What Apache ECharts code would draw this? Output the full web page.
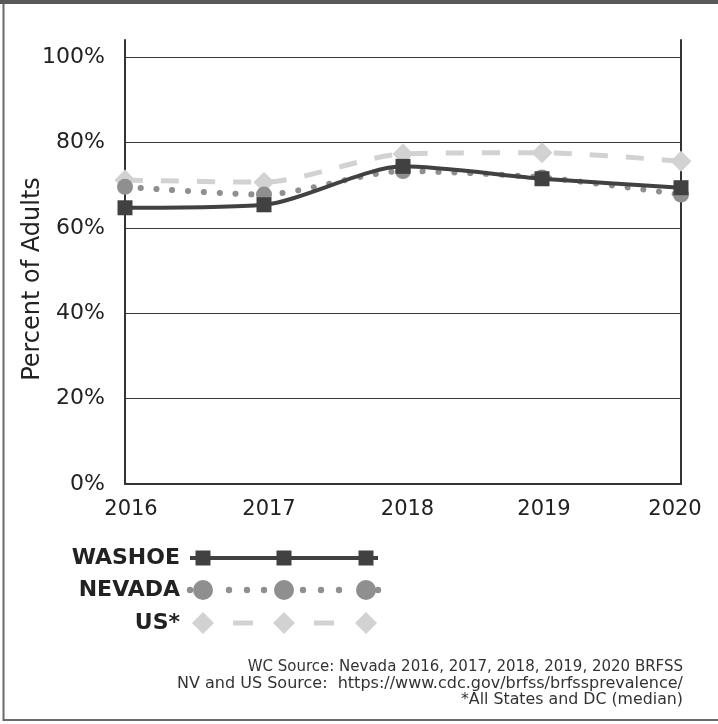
<!DOCTYPE html>
<html><head><meta charset="utf-8">
<script src="https://cdn.jsdelivr.net/npm/echarts@6/dist/echarts.min.js"></script>
<style>html,body{margin:0;padding:0;background:#fff}#c{width:718px;height:724px}</style>
</head><body><div id="c"></div>
<script>
const years = ['2016','2017','2018','2019','2020'];
const washoe = [64.7, 65.4, 74.4, 71.5, 69.4];
const nevada = [69.6, 67.8, 73.3, 71.8, 67.8];
const us = [71.2, 70.7, 77.3, 77.6, 75.6];
const yTicks = [0, 20, 40, 60, 80, 100];
const sourceLines = [
  'WC Source: Nevada 2016, 2017, 2018, 2019, 2020 BRFSS',
  'NV and US Source:  https://www.cdc.gov/brfss/brfssprevalence/',
  '*All States and DC (median)'
];
const FONT = 'DejaVu Sans';
const C_W = '#414141', C_N = '#8f8f8f', C_U = '#d2d2d2';
const sourceFontSizes = [15, 16, 15.8];

const chart = echarts.init(document.getElementById('c'));

function legendRow(label, y, color, kind) {
  const els = [];
  const mk = [203,284,366];
  els.push({type:'text', x:180, y:y, style:{text:label, font:'bold 22px "'+FONT+'"', fill:'#222', align:'right', verticalAlign:'middle'}, z:10});
  if (kind==='w') {
    els.push({type:'line', shape:{x1:190,y1:y,x2:378,y2:y}, style:{stroke:color, lineWidth:4}, z:10});
  } else if (kind==='n') {
    [190,229,247,264,303,321,339,378].forEach(cx=>els.push({type:'circle', shape:{cx:cx,cy:y,r:3.2}, style:{fill:color}, z:10}));
  } else {
    [[233,253],[314,334]].forEach(s=>els.push({type:'line', shape:{x1:s[0],y1:y,x2:s[1],y2:y}, style:{stroke:color, lineWidth:5}, z:10}));
  }
  mk.forEach(cx=>{
    if (kind==='w') els.push({type:'rect', shape:{x:cx-7.5,y:y-7.5,width:15,height:15}, style:{fill:color}, z:11});
    else if (kind==='n') els.push({type:'circle', shape:{cx:cx,cy:y,r:10}, style:{fill:color}, z:11});
    else els.push({type:'polygon', shape:{points:[[cx,y-11],[cx+11,y],[cx,y+11],[cx-11,y]]}, style:{fill:color}, z:11});
  });
  return els;
}

const graphics = [
  {type:'rect', shape:{x:0,y:0,width:718,height:4}, style:{fill:'#595959'}},
  {type:'line', shape:{x1:3.5,y1:4,x2:3.5,y2:721}, style:{stroke:'#6a6a6a', lineWidth:2}},
  {type:'line', shape:{x1:3,y1:720,x2:718,y2:720}, style:{stroke:'#6a6a6a', lineWidth:2}},
  ...legendRow('WASHOE', 558, C_W, 'w'),
  ...legendRow('NEVADA', 590, C_N, 'n'),
  ...legendRow('US*', 623, C_U, 'u'),
  ...sourceLines.map((t,i)=>({type:'text', x:683, y:667+i*16.5, style:{text:t, font:sourceFontSizes[i]+'px "'+FONT+'"', fill:'#333', align:'right', verticalAlign:'middle'}}))
];

chart.setOption({
  animation:false,
  backgroundColor:'#fff',
  grid:{left:125, right:37, top:40, bottom:240},
  xAxis:{type:'category', data:years, boundaryGap:false,
    axisLine:{lineStyle:{color:'#333', width:2}}, axisTick:{show:false},
    axisLabel:{fontFamily:FONT, fontSize:21, color:'#222', margin:15,
      formatter:(v,i)=>'{l'+i+'|'+v+'}',
      rich:{
        l0:{fontFamily:FONT, fontSize:21, color:'#222', padding:[0,0,0,12]},
        l1:{fontFamily:FONT, fontSize:21, color:'#222', padding:[0,0,0,10]},
        l2:{fontFamily:FONT, fontSize:21, color:'#222', padding:[0,0,0,9]},
        l3:{fontFamily:FONT, fontSize:21, color:'#222', padding:[0,0,0,4]},
        l4:{fontFamily:FONT, fontSize:21, color:'#222', padding:[0,12,0,0]}
      }}},
  yAxis:[
    {type:'value', min:0, max:104, interval:20,
     axisLine:{show:true, lineStyle:{color:'#333', width:2}}, axisTick:{show:false},
     splitLine:{show:true, showMaxLine:false, lineStyle:{color:'#3a3a3a', width:1}},
     axisLabel:{fontFamily:FONT, fontSize:22, color:'#222', margin:20, showMaxLabel:false,
       formatter:v=> yTicks.indexOf(v)>=0 ? v+'%' : ''},
     name:'Percent of Adults', nameLocation:'middle', nameGap:80, nameMoveOverlap:false,
     nameTextStyle:{fontFamily:FONT, fontSize:24, color:'#222', padding:[0,34,0,0]}},
    {type:'value', position:'right', min:0, max:104, interval:20,
     axisLine:{show:true, lineStyle:{color:'#333', width:2}}, axisTick:{show:false},
     splitLine:{show:false}, axisLabel:{show:false}}
  ],
  series:[
    {name:'US*', type:'line', data:us, smooth:0.25, symbol:'diamond', symbolSize:21,
     itemStyle:{color:C_U}, lineStyle:{color:C_U, width:5, type:[18,18]}, z:2},
    {name:'NEVADA', type:'line', data:nevada, smooth:0.25, symbol:'circle', symbolSize:16,
     itemStyle:{color:C_N}, lineStyle:{color:C_N, width:6, type:[0.1,15.7], cap:'round'}, z:3},
    {name:'WASHOE', type:'line', data:washoe, smooth:0.25, symbol:'rect', symbolSize:15,
     itemStyle:{color:C_W}, lineStyle:{color:C_W, width:4}, z:4}
  ],
  graphic:graphics
});
</script></body></html>
